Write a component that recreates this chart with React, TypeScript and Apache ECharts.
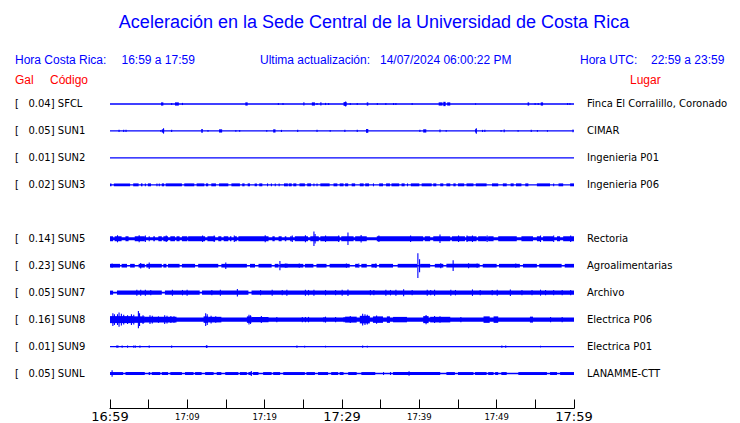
import React, { useEffect, useRef } from "react";
import * as echarts from "echarts";

// ---------- data ----------
const titleText = "Aceleración en la Sede Central de la Universidad de Costa Rica";
const updatedAt = "14/07/2024 06:00:22 PM";
const utcRange = "22:59 a 23:59";

const stationCodes = ["SFCL", "SUN1", "SUN2", "SUN3", "SUN4", "SUN5", "SUN6", "SUN7", "SUN8", "SUN9", "SUNL"];
const peakGal: (number | null)[] = [0.04, 0.05, 0.01, 0.02, null, 0.14, 0.23, 0.05, 0.16, 0.01, 0.05];
const places = [
  "Finca El Corralillo, Coronado",
  "CIMAR",
  "Ingenieria P01",
  "Ingenieria P06",
  "",
  "Rectoria",
  "Agroalimentarias",
  "Archivo",
  "Electrica P06",
  "Electrica P01",
  "LANAMME-CTT",
];
const tickLabels = ["16:59", "17:09", "17:19", "17:29", "17:39", "17:49", "17:59"];
const majorTicks = ["16:59", "17:29", "17:59"];

// background amplitude (Gal) of each trace
const baseAmp: (number | null)[] = [0.01, 0.01, 0.01, 0.012, null, 0.027, 0.015, 0.016, 0.04, 0.01, 0.012];

// envelope segments: [minute, gal] = short spike, [fromMinute, toMinute, gal] = burst
const SFCL = [
  [6.6, 6.9, 0.03], [7.9, 0.02], [8.4, 8.9, 0.03], [9.3, 0.02], [17.5, 17.8, 0.03], [21.7, 0.02], [22.3, 0.02],
  [25.0, 25.1, 0.03], [26.1, 26.5, 0.03], [26.7, 0.02], [27.2, 0.03], [27.8, 0.02], [28.2, 0.02], [30.2, 30.6, 0.035],
  [30.4, 0.045], [31.0, 0.02], [31.9, 0.02], [33.2, 33.4, 0.03], [34.5, 0.02], [35.6, 0.02], [36.6, 0.02], [36.9, 0.02],
  [39.0, 0.02], [42.5, 43.0, 0.03], [43.1, 43.4, 0.04], [43.6, 44.0, 0.03], [47.2, 0.015], [54.0, 54.2, 0.03],
  [54.9, 0.02], [55.3, 0.02], [55.7, 56.0, 0.03], [59.1, 0.02], [59.4, 0.02],
];
const SUN1 = [
  [1.1, 0.02], [1.7, 0.02], [2.0, 0.02], [6.5, 0.015], [6.7, 7.0, 0.03], [6.85, 0.05], [7.9, 0.02], [11.8, 12.0, 0.035],
  [12.6, 0.015], [14.1, 14.5, 0.03], [16.2, 0.015], [16.7, 0.015], [20.2, 0.015], [21.1, 21.4, 0.03], [22.1, 0.02],
  [24.2, 0.02], [26.7, 0.02], [28.4, 0.015], [30.3, 0.02], [31.9, 0.02], [33.1, 33.4, 0.035], [40.0, 0.02],
  [40.5, 40.9, 0.03], [42.6, 0.025], [43.4, 0.015], [47.2, 47.4, 0.03], [47.3, 0.05], [48.1, 0.02], [48.4, 0.02],
  [50.5, 0.015], [50.9, 0.025], [52.7, 0.015], [54.4, 0.02], [55.2, 0.015], [56.5, 0.015], [59.8, 0.025],
];
const SUN2: number[][] = [];
const SUN3 = [
  [0, 0.2, 0.027], [0.5, 2.6, 0.027], [3.0, 3.7, 0.027], [4.0, 4.2, 0.027], [4.5, 4.6, 0.027], [4.9, 5.3, 0.027],
  [6.0, 6.1, 0.027], [6.3, 6.4, 0.027], [6.7, 7.0, 0.027], [7.2, 9.3, 0.027], [9.6, 10.9, 0.027], [11.2, 12.2, 0.027],
  [12.4, 12.7, 0.027], [13.1, 13.7, 0.027], [14.1, 15.3, 0.027], [15.7, 16.8, 0.027], [17.1, 17.4, 0.027],
  [17.8, 18.1, 0.027], [18.7, 19.0, 0.027], [19.3, 19.7, 0.027], [20.3, 20.4, 0.027], [20.8, 20.9, 0.027],
  [21.3, 21.4, 0.027], [21.8, 21.9, 0.027], [22.5, 23.0, 0.027], [23.1, 23.5, 0.027], [23.7, 24.1, 0.027],
  [24.5, 25.2, 0.027], [25.5, 26.0, 0.027], [26.3, 26.4, 0.027], [26.7, 26.8, 0.027], [27.2, 28.4, 0.027],
  [28.9, 29.4, 0.027], [29.7, 30.2, 0.027], [30.4, 30.8, 0.027], [31.25, 31.7, 0.027], [32.3, 32.8, 0.027],
  [33.0, 33.5, 0.027], [34.0, 34.1, 0.027], [34.8, 35.3, 0.027], [35.7, 36.2, 0.027], [36.4, 37.4, 0.027],
  [37.7, 38.1, 0.027], [38.4, 38.5, 0.027], [38.9, 40.0, 0.027], [40.3, 41.6, 0.027], [41.8, 42.2, 0.027],
  [42.7, 43.1, 0.027], [43.5, 44.0, 0.027], [44.4, 44.7, 0.027], [45.0, 45.8, 0.027], [46.1, 47.0, 0.027],
  [47.3, 48.7, 0.027], [49.4, 50.2, 0.027], [50.8, 51.3, 0.027], [51.8, 52.2, 0.027], [52.5, 53.2, 0.027],
  [53.7, 54.1, 0.027], [55.2, 56.9, 0.027], [57.3, 57.4, 0.027], [58.0, 58.6, 0.027], [59.5, 60, 0.027],
];
const SUN5 = [
  [0, 0.4, 0.046], [0.6, 1.5, 0.046], [2.0, 2.4, 0.046], [3.2, 4.5, 0.046], [5.0, 5.1, 0.046], [5.6, 5.8, 0.046],
  [6.25, 6.7, 0.046], [6.9, 7.5, 0.046], [7.8, 8.4, 0.046], [8.6, 9.0, 0.046], [9.3, 10.0, 0.046], [10.1, 12.3, 0.046],
  [12.6, 13.6, 0.046], [14.0, 14.4, 0.046], [14.7, 15.3, 0.046], [15.5, 15.7, 0.046], [16.1, 16.4, 0.046],
  [16.6, 20.5, 0.046], [21.0, 21.3, 0.046], [21.8, 22.2, 0.046], [22.6, 22.8, 0.046], [23.3, 23.5, 0.046],
  [23.9, 25.6, 0.046], [25.9, 27.0, 0.046], [27.2, 29.7, 0.046], [29.9, 31.5, 0.046], [31.7, 33.2, 0.046],
  [34.5, 40.5, 0.046], [40.7, 41.4, 0.046], [41.8, 44.0, 0.046], [44.2, 45.9, 0.046], [46.1, 47.4, 0.046],
  [47.6, 48.7, 0.046], [48.9, 49.6, 0.046], [50.2, 52.6, 0.046], [53.2, 54.7, 0.046], [55.2, 55.6, 0.046],
  [56.0, 57.3, 0.046], [57.8, 58.2, 0.046], [58.6, 60, 0.046],
  [0.9, 0.065], [3.7, 0.065], [4.5, 0.06], [7.2, 0.06], [11.9, 0.06], [13.4, 0.06], [16.0, 0.06], [20.0, 0.065],
  [23.5, 0.06], [25.2, 0.065], [26.3, 0.135], [26.45, 0.09], [27.8, 0.06], [29.5, 0.06], [30.7, 0.115], [32.4, 0.07],
  [34.7, 0.06], [38.8, 0.06], [42.6, 0.08], [45.0, 0.06], [46.1, 0.06], [46.8, 0.06], [48.7, 0.06], [55.6, 0.06],
  [57.3, 0.06], [59.5, 0.06],
];
const SUN6 = [
  [0, 1.3, 0.034], [1.5, 2.2, 0.034], [2.6, 3.2, 0.034], [3.7, 4.5, 0.034], [4.7, 6.7, 0.034], [6.9, 7.3, 0.034],
  [7.5, 9.0, 0.034], [9.3, 11.0, 0.034], [11.4, 14.0, 0.034], [14.4, 17.7, 0.034], [18.1, 18.75, 0.034],
  [19.2, 20.9, 0.034], [21.3, 21.8, 0.034], [22.0, 25.0, 0.034], [25.2, 26.3, 0.034], [26.7, 28.0, 0.034],
  [28.4, 31.0, 0.034], [31.7, 32.1, 0.034], [32.5, 33.2, 0.034], [33.8, 34.5, 0.034], [34.8, 36.6, 0.034],
  [37.2, 39.7, 0.034], [40.1, 41.4, 0.034], [42.0, 43.1, 0.034], [43.5, 47.8, 0.034], [48.2, 50.0, 0.034],
  [50.3, 53.0, 0.034], [53.4, 55.2, 0.034], [55.5, 58.4, 0.034], [58.8, 60, 0.034],
  [0.2, 0.04], [3.9, 0.05], [5.0, 0.06], [14.9, 0.06], [21.9, 0.085], [22.6, 0.04], [22.8, 0.04], [24.4, 0.04],
  [30.5, 0.04], [32.1, 0.04], [34.3, 0.04], [39.74, 0.23], [39.96, 0.12], [42.7, 0.045], [44.3, 0.1], [46.3, 0.045],
  [47.4, 0.04], [52.4, 0.04],
];
const SUN7 = [
  [0, 0.4, 0.038], [0.9, 6.7, 0.038], [7.1, 11.6, 0.038], [11.9, 17.9, 0.038], [18.3, 60, 0.038],
  [3.4, 0.055], [3.9, 0.055], [4.5, 0.055], [5.2, 0.05], [8.0, 0.055], [9.3, 0.05], [9.9, 0.055], [13.1, 0.05],
  [14.2, 0.055], [16.4, 0.07], [19.4, 0.05], [20.9, 0.055], [22.2, 0.05], [22.8, 0.055], [25.2, 0.055], [25.6, 0.05],
  [26.3, 0.055], [27.8, 0.05], [29.1, 0.05], [29.95, 0.055], [30.7, 0.06], [33.6, 0.05], [34.05, 0.05], [35.6, 0.055],
  [36.2, 0.05], [36.9, 0.055], [37.9, 0.065], [39.0, 0.05], [40.95, 0.055], [41.4, 0.05], [41.9, 0.055], [44.0, 0.055],
  [44.6, 0.05], [46.8, 0.06], [47.8, 0.05], [49.35, 0.05], [50.0, 0.055], [51.7, 0.06], [53.2, 0.05], [54.5, 0.05],
  [55.6, 0.055], [56.25, 0.05], [57.3, 0.05], [58.4, 0.05], [59.5, 0.05],
];
const SUN8 = [
  [0, 3.0, 0.065], [3.0, 4.5, 0.06], [4.5, 8.6, 0.052], [0.3, 0.12], [0.5, 0.1], [0.9, 0.1], [1.1, 0.13], [1.4, 0.11],
  [1.7, 0.09], [2.2, 0.08], [2.7, 0.1], [3.0, 0.09], [3.6, 0.16], [3.75, 0.12], [4.2, 0.08], [5.1, 0.08], [5.4, 0.07],
  [6.2, 0.06], [7.0, 0.08], [7.3, 0.07], [7.8, 0.065], [8.2, 0.06],
  [12.1, 12.7, 0.06], [12.3, 0.12], [12.5, 0.1], [12.7, 14.4, 0.052], [13.0, 0.07], [13.6, 0.06],
  [17.7, 18.3, 0.06], [17.9, 0.09], [18.1, 0.08], [18.3, 20.5, 0.05], [19.5, 0.065],
  [21.5, 0.05], [24.8, 0.05], [25.2, 0.05], [25.6, 0.05], [27.6, 0.05], [27.8, 0.055], [29.1, 0.05], [30.2, 0.05],
  [30.4, 31.9, 0.055], [31.0, 0.065], [32.3, 33.6, 0.07], [32.6, 0.11], [32.9, 0.1], [33.2, 0.09],
  [34.0, 35.3, 0.06], [34.4, 0.075], [35.8, 36.2, 0.06], [36.6, 38.4, 0.05], [40.5, 41.2, 0.065], [40.8, 0.085],
  [41.4, 44.0, 0.052], [41.9, 0.065], [42.6, 0.06], [45.3, 0.05], [48.3, 49.1, 0.06], [49.6, 50.2, 0.06],
  [54.3, 54.7, 0.055], [56.9, 0.05], [58.4, 0.05],
];
const SUN9 = [
  [0.8, 1.1, 0.02], [1.5, 0.02], [2.2, 0.02], [3.0, 0.02], [3.2, 0.02], [3.8, 0.02], [5.0, 0.02], [7.9, 0.02],
  [12.4, 12.6, 0.025], [24.1, 0.02], [25.1, 0.015], [27.8, 0.015], [32.6, 0.02], [33.2, 0.015], [50.6, 0.02],
  [51.1, 0.02], [55.6, 0.015],
];
const SUNL = [
  [0, 1.7, 0.027], [2.0, 4.5, 0.027], [5.0, 5.2, 0.027], [5.4, 6.5, 0.027], [6.7, 7.5, 0.027], [7.8, 9.3, 0.027],
  [9.7, 10.8, 0.027], [11.0, 11.85, 0.027], [12.3, 13.4, 0.027], [13.8, 14.4, 0.027], [14.9, 16.6, 0.027],
  [16.8, 17.7, 0.027], [17.9, 18.3, 0.027], [18.5, 19.2, 0.027], [19.8, 20.9, 0.027], [21.1, 22.0, 0.027],
  [22.4, 25.2, 0.027], [25.4, 26.5, 0.027], [26.9, 28.2, 0.027], [28.6, 29.5, 0.027], [29.7, 30.2, 0.027],
  [30.8, 31.9, 0.027], [32.5, 34.3, 0.027], [35.3, 35.4, 0.027], [36.2, 36.3, 0.027], [36.6, 42.7, 0.027],
  [43.5, 44.6, 0.027], [45.0, 47.0, 0.027], [47.2, 48.7, 0.027], [48.9, 49.6, 0.027], [49.8, 50.2, 0.027],
  [50.6, 51.3, 0.027], [52.8, 56.5, 0.027], [56.9, 57.8, 0.027], [58.2, 60, 0.027],
  [0.2, 0.06], [18.2, 0.045], [38.6, 0.04],
];
const traces: (number[][] | null)[] = [SFCL, SUN1, SUN2, SUN3, null, SUN5, SUN6, SUN7, SUN8, SUN9, SUNL];

// ---------- presentation constants ----------
const GAL_PX = 54; // pixels per Gal
const SPIKE_MIN = 0.12; // duration of a single spike, minutes
const TRACE_COLOR = "#0000ff";
const TEXT_BLUE = "#0000ff";
const TEXT_RED = "#ff0000";

export default function App() {
  const ref = useRef<HTMLDivElement>(null);

  useEffect(() => {
    if (!ref.current) return;
    const chart = echarts.init(ref.current, undefined, { renderer: "svg" });

    const segData: number[][] = [];
    traces.forEach((tr, row) => {
      if (!tr) return;
      segData.push([0, 60, row, baseAmp[row] as number]);
      tr.forEach((s) => {
        if (s.length === 2) segData.push([s[0], s[0] + SPIKE_MIN, row, s[1]]);
        else segData.push([s[0], s[1], row, s[2]]);
      });
    });

    const header = (text: string, x: number, y: number, fill: string, size = 12, align = "left") => ({
      type: "text",
      x,
      y,
      style: {
        text,
        fill,
        font: `${size}px "Liberation Sans", Arial, sans-serif`,
        textAlign: align,
        textVerticalAlign: "middle",
      },
    });

    const nb = "\u00a0";

    chart.setOption({
      animation: false,
      backgroundColor: "#ffffff",
      graphic: [
        header(titleText, 374, 22, TEXT_BLUE, 18, "center"),
        header("Hora Costa Rica:", 15, 60, TEXT_BLUE),
        header(`${tickLabels[0]} a ${tickLabels[tickLabels.length - 1]}`, 121.5, 60, TEXT_BLUE),
        header("Ultima actualización:", 260, 60, TEXT_BLUE),
        header(updatedAt, 380, 60, TEXT_BLUE),
        header("Hora UTC:", 580, 60, TEXT_BLUE),
        header(utcRange, 651, 60, TEXT_BLUE),
        header("Gal", 15, 80, TEXT_RED),
        header("Código", 50, 80, TEXT_RED),
        header("Lugar", 630, 80, TEXT_RED),
      ],
      grid: { left: 110, top: 90.5, width: 464, height: 297, containLabel: false },
      xAxis: {
        type: "value",
        min: 0,
        max: 60,
        interval: 5,
        position: "bottom",
        offset: 21.5,
        axisLine: { show: true, onZero: false, lineStyle: { color: "#000", width: 1 } },
        axisTick: { show: true, inside: true, length: 9, lineStyle: { color: "#000", width: 1 } },
        splitLine: { show: false },
        axisLabel: {
          margin: 1,
          showMinLabel: true,
          showMaxLabel: true,
          formatter: (v: number) => {
            if (v % 10 !== 0) return "";
            const lab = tickLabels[v / 10];
            return majorTicks.includes(lab) ? `{big|${lab}}` : `{small|${lab}}`;
          },
          rich: {
            big: { fontSize: 13, fontFamily: "DejaVu Sans", color: "#000", lineHeight: 14 },
            small: { fontSize: 8.5, fontFamily: "DejaVu Sans", color: "#000", lineHeight: 14 },
          },
        },
      },
      yAxis: [
        {
          type: "category",
          data: stationCodes,
          inverse: true,
          position: "left",
          axisLine: { show: false },
          axisTick: { show: false },
          splitLine: { show: false },
          axisLabel: {
            interval: 0,
            align: "left",
            margin: 95,
            fontFamily: "DejaVu Sans",
            fontSize: 10,
            color: "#000",
            formatter: (v: string, i: number) =>
              peakGal[i] == null ? "" : `[${nb}${nb}${nb}${(peakGal[i] as number).toFixed(2)}]${nb}${v}`,
          },
        },
        {
          type: "category",
          data: stationCodes,
          inverse: true,
          position: "right",
          axisLine: { show: false },
          axisTick: { show: false },
          splitLine: { show: false },
          axisLabel: {
            interval: 0,
            align: "left",
            margin: 13,
            fontFamily: "DejaVu Sans",
            fontSize: 10,
            color: "#000",
            formatter: (_v: string, i: number) => places[i],
          },
        },
      ],
      series: [
        {
          type: "custom",
          xAxisIndex: 0,
          yAxisIndex: 0,
          clip: false,
          silent: true,
          dimensions: ["from", "to", "row", "gal"],
          encode: { x: [0, 1], y: 2 },
          data: segData,
          renderItem: (_params: any, api: any) => {
            const a = api.coord([api.value(0), api.value(2)]);
            const b = api.coord([api.value(1), api.value(2)]);
            const h = Math.max(api.value(3) * GAL_PX, 0.65);
            return {
              type: "rect",
              shape: { x: a[0], y: a[1] - h, width: Math.max(b[0] - a[0], 1.1), height: 2 * h },
              style: { fill: TRACE_COLOR },
            };
          },
        },
      ],
    });

    return () => chart.dispose();
  }, []);

  return (
    <div
      ref={ref}
      style={{ position: "fixed", left: 0, top: 0, width: 740, height: 423, background: "#fff" }}
    />
  );
}
